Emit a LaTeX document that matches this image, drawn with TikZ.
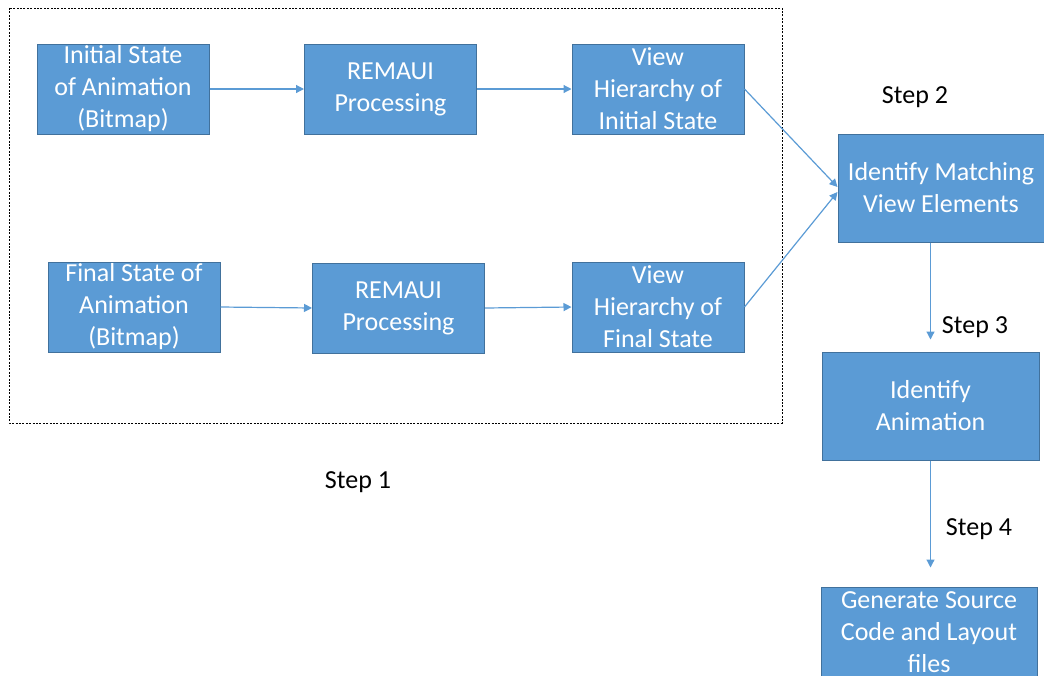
\documentclass[tikz,border=0pt]{standalone}
\usepackage{fontspec}
\setmainfont{Carlito}
\usepackage{tikz}
\usetikzlibrary{arrows.meta, positioning, calc}

\definecolor{boxfill}{HTML}{5B9BD5}
\definecolor{boxline}{HTML}{41719C}

\begin{document}
\begin{tikzpicture}[
    x=0.5pt, y=-0.5pt,
    font=\fontsize{13pt}{16pt}\selectfont,
    stage/.style={draw=boxline, line width=0.5pt, fill=boxfill, text=white, align=center,
                  minimum width=86pt, minimum height=45pt, inner sep=0pt},
    flow/.style={draw=boxfill, line width=0.6pt, -{Triangle[length=4pt, width=4pt]}},
    steplabel/.style={text=black}
]
\useasboundingbox (0,0) rectangle (1044,675);

% step 1: both states through REMAUI
\draw[line width=0.4pt, dash pattern=on 1pt off 0.7pt] (9,8) rectangle (782,423);
\node[stage] (initbmp) at (123,89) {Initial State\\of Animation\\(Bitmap)};
\node[stage] (remaui1) at (390.5,89) {REMAUI\\Processing};
\node[stage] (viewinit) at (658,89) {View\\Hierarchy of\\Initial State};
\node[stage] (finalbmp) at (134,307) {Final State of\\Animation\\(Bitmap)};
\node[stage] (remaui2) at (398.5,308) {REMAUI\\Processing};
\node[stage] (viewfinal) at (658,307) {View\\Hierarchy of\\Final State};

% steps 2 to 4
\node[stage, minimum width=103pt, minimum height=54pt] (match) at (941,188) {Identify Matching\\View Elements};
\node[stage, minimum width=108.5pt, minimum height=54pt] (anim) at (930.5,406) {Identify\\Animation};
\node[stage, minimum width=108pt, minimum height=45pt] (gen) at (929,632) {Generate Source\\Code and Layout\\files};

\node[steplabel] (step1) at (358,482) {Step 1};
\node[steplabel] (step2) at (915,97) {Step 2};
\node[steplabel] (step3) at (975,327) {Step 3};
\node[steplabel] (step4) at (979,529) {Step 4};

\draw[flow] (initbmp) -- (remaui1);
\draw[flow] (remaui1) -- (viewinit);
\draw[flow] (finalbmp.east) -- (remaui2.west);
\draw[flow] (remaui2.east) -- (viewfinal.west);
\draw[flow] (viewinit.east) -- ([yshift=0.5pt]match.west);
\draw[flow] (viewfinal.east) -- ([yshift=-2pt]match.west);
\draw[flow, shorten >=6pt] (anim.north |- match.south) -- (anim.north);
\draw[flow, shorten >=9.5pt] (anim.south) -- (anim.south |- gen.north);
\end{tikzpicture}
\end{document}
